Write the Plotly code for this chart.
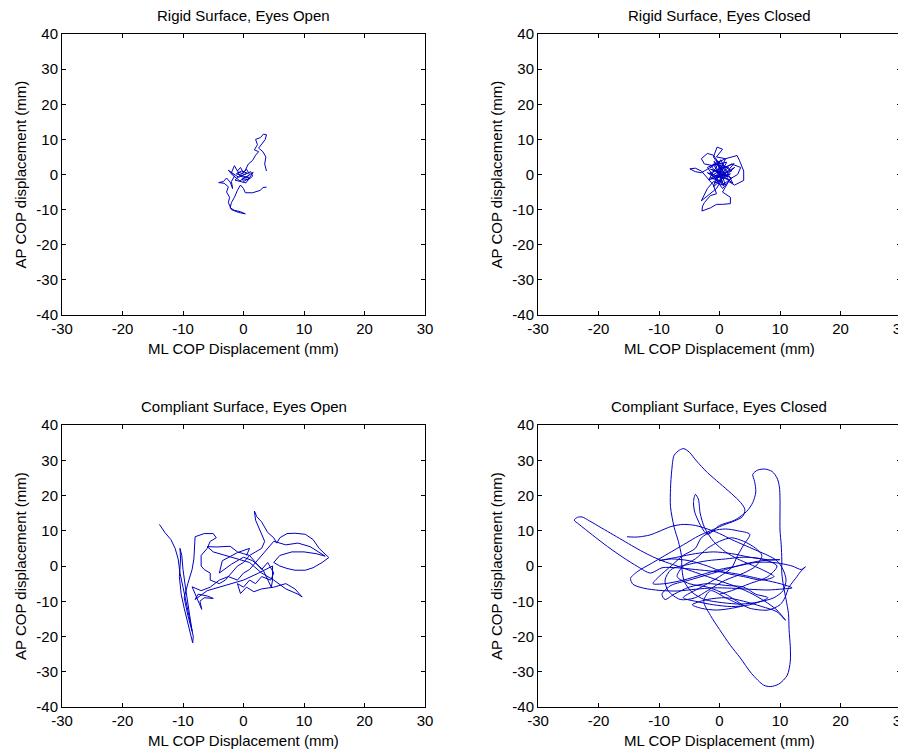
import plotly.graph_objects as go

# ---------------- data (mm) ----------------
titles = ["Rigid Surface, Eyes Open", "Rigid Surface, Eyes Closed",
          "Compliant Surface, Eyes Open", "Compliant Surface, Eyes Closed"]
x_ticks = [-30, -20, -10, 0, 10, 20, 30]
x_ticktext = ["-30", "-20", "-10", "0", "10", "20", "30"]
y_ticks = [-40, -30, -20, -10, 0, 10, 20, 30, 40]
y_ticktext = ["-40", "-30", "-20", "-10", "0", "10", "20", "30", "40"]

rseo = [(3.8,-3.6),(3.2,-3.7),(2.8,-4.5),(1.5,-5.2),(0.3,-5.2),(0.0,-4.0),(-0.5,-3.0),(-1.0,-4.5),
        (-1.5,-6.5),(-2.0,-8.0),(-2.2,-9.5),(-1.5,-10.2),(-0.5,-10.6),(0.3,-11.2),(-0.8,-10.8),(-2.0,-10.0),
        (-2.5,-8.0),(-2.3,-6.5),(-2.8,-5.0),(-2.5,-3.5),(-3.2,-2.5),(-4.1,-2.3),(-3.3,-2.0),(-2.8,-1.0),
        (-2.2,-2.2),(-1.8,-4.0),(-2.0,-2.0),(-1.5,-0.5),(-2.0,0.5),(-1.5,2.5),(-1.0,1.0),(-0.5,2.0),
        (0.0,0.5),(0.5,1.5),(1.0,0.0),(0.5,-1.0),(-0.5,-0.5),(-1.0,0.8),(0.2,0.0),(1.2,0.8),(1.5,-0.5),
        (0.8,-1.5),(-0.2,-1.2),(0.0,-2.0),(1.0,-1.0),(-1.2,0.2),(-0.3,1.0),(0.6,0.4),(-0.8,-0.8),
        (-2.5,1.2),(-1.8,-0.2),(-0.6,-1.8),(1.6,0.6),(0.4,-2.4),(-1.4,-1.6),
        (0.3,1.2),(0.8,3.0),(1.5,4.0),(2.0,5.5),(2.5,6.5),(1.8,7.0),(2.3,8.5),(2.0,10.0),(2.8,10.5),
        (3.3,11.5),(3.8,11.3),(3.6,10.0),(3.0,8.5),(2.5,7.5),(3.2,6.5),(3.7,5.0),(3.5,3.0),(3.8,1.0)]

rsec = [(0,0),(1.5,2),(-1,3),(0.5,-2),(-1.5,-1),(2,1),(-0.5,4),(1,-3),(-2,0.5),(1.5,-1.5),(0,2.5),
        (-1,-3.5),(2.5,2),(-0.5,-1),(1,4.5),(-2,2),(0.5,-4),(2,-1),(-1.5,1.5),(0.8,0.5),
        (-1,5),(-0.4,7.8),(0.5,7.2),(-0.5,5),(1,4.5),(2.9,5.4),(3.3,4),(4,1),(4,-1.7),(3,-2.5),
        (2.5,-3),(1.5,-2),(0.5,-5),(1.8,-6.5),(1.8,-8.3),(0.5,-8.5),(-0.5,-8.5),(-1.5,-9.5),
        (-2.9,-10.4),(-2.8,-9),(-2.5,-8),(-1.5,-6),(-0.5,-5.5),(-1,-3),(-2,-1),(-3,1),(-4,1.8),
        (-4.9,1.6),(-4,0.8),(-3,0.5),(-2,1.5),(-1,2.5),(-2.5,3),(-3,4.5),(-2,6),(-1,5.5),(0,3),
        (1,1),(0,-1),(-1,0),(0.5,1.5),(2,3),(3.5,2),(3,0),(2,-1),(0.5,-3),(-1,-2),(-2,-4),
        (-3,-7.5),(-2,-6),(-0.5,-4),(0.5,-1),(-1.5,2.5),(1.2,3.5),(-0.8,-2.5),(1.8,0.2),(-1.8,-1.5),
        (0.2,4.2),(2.2,-2.5),(-0.5,1),(1.3,-0.6),(-0.9,3.8),(0.7,-3.2),(-1.6,0.4),(2.4,3.1),(-0.2,-2)]

cseo = [(-13.9,11.8),(-13,9.5),(-12,7.5),(-11.3,5),(-10.8,2),(-10.5,-2),(-10,-6),(-9.5,-10),(-9,-14),
        (-8.5,-18),(-8.3,-20),(-8.4,-21.8),(-8.8,-19),(-9.3,-16),(-9.8,-12),(-10.3,-8),(-10.6,-3),
        (-10.4,2),(-10.5,5),(-10.2,3),(-10,-1),(-9.6,-6),(-9.2,-11),(-8.8,-15),(-8.5,-18.5),(-9.2,-14),
        (-9.8,-9),(-9.2,-5),(-8.5,-1),(-8.2,2),(-8,6),(-8,8.3),(-6.5,9.2),(-5,9.2),(-4.5,8),(-5.5,7),
        (-6,5),(-7,3),(-7,0),(-6.5,-1),(-5.5,-2),(-5.5,-4),(-4,-5),(-3,-4),(-2,-2),(-1,0),(0,1),(1,3),
        (2,1),(3,-1),(4,1),(5,-2),(4.5,-4),(3,-3),(2,-5),(1,-4),(0,-6),(-1,-5),(-0.5,-7.8),(0.5,-6),
        (1.7,-7.3),(3,-6.5),(5,-6),(7,-5),(8.5,-6.5),(9.7,-8.8),(9,-8),(7,-6.5),(5,-4),(3,-2),(1,1),
        (-1,2),(-3,3),(-5,4),(-6,5.5),(-4.4,5.4),(-2.2,5.6),(-1,4),(0,3.5),(1,3),(2,4),(3,5),(3.5,7),
        (3,9),(2.5,11),(2,13),(1.8,15.6),(2.2,14),(3,12.5),(3.5,11),(4,9.5),(5,8),(5.5,6.5),(6,8),
        (7.2,9.2),(8.5,9.3),(10.2,9),(11.5,7.5),(12.5,5),(14.1,2.4),(13,1),(11.5,-0.5),(10.2,-1.2),
        (8.5,-1.2),(7.2,-0.7),(6,0),(5,1),(6,3),(8,4),(10,4),(12,3.5),(13.5,2.8),(11,5.5),(9,6.5),
        (7,6),(5,7),(4,5),(3,3),(2,1),(1,-1),(0,-2),(-1,-4),(-2.5,-3),(-4,-4),(-5.5,-6),(-7,-7),
        (-8.5,-5.9),(-8,-8),(-7.5,-10),(-6.9,-12.3),(-7.2,-10),(-6.5,-9),(-5,-9.2),(-6,-8.5),(-7.5,-8),
        (-8,-9.5),(-6,-7),(-3,-5.5),(0,-4),(2.5,-2),(4.8,0),(4.8,-4),(4.6,-6),(3.2,-1),(1.5,1.5),
        (0,2.5),(-2,0.5),(-4,-2),(-3.5,1.5),(-1,3.8),(1,5),(0.5,3)]

csec = [(-15.3,8.3),(-14,8.2),(-13.1,8.3),(-11.5,8.8),(-10,9.8),(-8,11.2),(-6,11.8),(-4,11.5),(-2,10.5),
        (0,9.2),(2,7.5),(4,6),(6,4.5),(8,3),(9.5,1.5),(10.5,-1),(11,-4),(10.5,-7),(9,-9),(6.5,-10.2),
        (3.5,-10.8),(0.5,-10.4),(-2.5,-9.5),(-4.5,-7.5),(-5.8,-4.5),(-6.2,-1),(-6.3,3),(-6.8,7),(-7.5,11),
        (-8.1,16.8),(-8.1,22),(-7.9,27),(-7.5,31.4),(-6.6,32.9),(-5.9,33.3),(-5,32.3),(-3.8,29.8),(-2,26.5),
        (0,23.5),(2,20.5),(3.5,18),(4.2,16),(3.8,14),(2.5,12.8),(0.5,11.5),(-1.5,10),(-3.5,8.5),(-5.5,6.5),
        (-7.5,4.5),(-9.5,2.5),(-11.5,0.5),(-13.5,-1.5),(-14.7,-3.5),(-14.3,-5.2),(-12.5,-6.3),(-10,-6.9),
        (-7,-7.1),(-4,-6.6),(-1,-6.2),(2,-6.3),(5,-6.6),(8,-6.8),(10.5,-6.5),(12,-6.2),(10,-5),(7.5,-4),
        (5,-3),(2,-2),(-1,-1.5),(-4,-1),(-7,-0.5),(-9.5,-0.5),(-11.4,-2),(-13.5,-0.2),(-16,2.5),(-18.5,5.5),
        (-21,8.8),(-23.2,11.8),(-24,13),(-23.5,13.8),(-22.7,13.9),(-21.5,12.8),(-19.5,10.8),(-17.5,8.8),
        (-15.5,6.8),(-13.5,4.8),(-11.5,3),(-9.5,1.5),(-7,0),(-4.5,-1.5),(-2,-3),(0.5,-4.5),(3,-6),
        (5.5,-8),(7.5,-10),(9.5,-12.5),(10.9,-15.4),(9.5,-13),(7,-11.5),(4,-10),(1,-9),(-2,-9.5),
        (-4.5,-11),(-3,-12),(-0.5,-12.5),(2,-12),(4,-11.2),(3.5,-11),(1,-9),(-1.5,-7),(-2.6,-10),
        (-1.5,-14),(0,-18),(1.8,-22.5),(3.4,-26),(5.3,-30.5),(7.3,-33.8),(8.4,-34.2),(9.8,-33.5),
        (11.2,-31),(11.7,-27),(11.7,-22.9),(11.5,-18),(11.4,-13.5),(11,-9.5),(10.6,-5.9),(10.3,-2),
        (10.3,1.7),(10.2,6),(10,10.2),(10,15),(10,19),(9.9,22.5),(9.5,25),(8.7,26.8),(7.5,27.5),
        (6.3,27.2),(5.5,26),(5.8,24),(6,21),(5.5,18),(4.5,15.5),(2.5,13),(0,11.5),(-2,9),(-4,14.8),
        (-4.3,18),(-4,20.3),(-3.5,19),(-3.2,15),(-2.5,11),(-1,7),(1,4),(3,2),(5,0.5),(7,-1),(9,-3),
        (7,-4),(4,-3),(1,-2),(-2,0),(-5,1.5),(-8,2),(-10,1.5),(-7,2.5),(-4,3.5),(-1,4),(2,3.5),(5,2.5),
        (8,1.8),(10,1.8),(7,1.5),(4,0.5),(1,-1),(-2,-2.5),(-5,-4),(-8,-5.5),(-9.5,-8),(-9,-9.5),
        (-7.5,-8),(-5,-6),(-2,-5),(1,-5.5),(4,-6),(6,-8),(8,-9),(5,-11),(2,-11.5),(-1,-11),(-4,-10),
        (-6,-9),(-3,-6),(0,-3),(2,-0.5),(3,3),(4,6),(5,9),(3,10),(1,10.5),(-1,10),(-3,8),(-4,5),(-6,3),
        (-8,0),(-10,-3),(-11,-5),(-9,-5),(-6,-4),(-3,-2.5),(0,-1),(3,0),(6,1),(9,1),(12,0),(13.5,-1),
        (14.2,-0.2),(13.3,-1.8),(12.8,-3),(11.5,-6),(10.8,-9),(10,-11),(8,-12.5),(5,-12),(3.8,-11),
        (1,-8),(-2,-6),(-5,-5),(-7,-3),(-6,0),(-4,2),(-2,5),(0,7),(2,8),(4,7),(6,5),(7,3),(6,0),
        (4,-2),(1,-4),(-2,-7),(-4,-9),(-6.5,-9.5),(-8.5,-7),(-9,-4),(-8,-1),(-5,0.5),(-2,1.5),(1,2),
        (4,2.5),(7,2),(9.5,0),(8,-3),(5,-5),(2,-7),(0,-8)]

series = [rseo, rsec, cseo, csec]
smooth = [False, False, False, True]

# ---------------- layout geometry ----------------
# The page body has an 8px default margin, so the figure is sized/offset to
# place the axes at the same page pixels as the reference.
OFF = 8
W, H = 906 - OFF, 752 - OFF
def px_x(p):
    return (p - OFF) / W
def px_y(p):
    return 1 - (p - OFF) / H
xdom = [[px_x(62), px_x(425)], [px_x(538), px_x(901)]]
ydom = [[px_y(315), px_y(34)], [px_y(707), px_y(425)]]

fig = go.Figure()
font = dict(family="Liberation Sans, Arial, sans-serif", size=15, color="black")
annotations = []

for i, (pts, title) in enumerate(zip(series, titles)):
    r, c = divmod(i, 2)
    xa = "x" if i == 0 else f"x{i+1}"
    ya = "y" if i == 0 else f"y{i+1}"
    xs = [p[0] for p in pts]
    ys = [p[1] for p in pts]
    fig.add_trace(go.Scatter(
        x=xs, y=ys, mode="lines", xaxis=xa, yaxis=ya, showlegend=False,
        line=dict(color="rgb(0,0,195)", width=1,
                  shape="spline" if smooth[i] else "linear", smoothing=0.8),
        hoverinfo="skip"))
    axcommon = dict(showline=True, linecolor="black", linewidth=1, mirror="ticks",
                    ticks="inside", ticklen=4, tickcolor="black", showgrid=False,
                    zeroline=False, tickfont=font, fixedrange=True, automargin=False,
                    ticklabeloverflow="allow")
    fig.layout[f"xaxis{'' if i == 0 else i+1}"] = dict(
        domain=xdom[c], range=[-30, 30], tickvals=x_ticks, ticktext=x_ticktext,
        anchor=ya, **axcommon)
    fig.layout[f"yaxis{'' if i == 0 else i+1}"] = dict(
        domain=ydom[r], range=[-40, 40], tickvals=y_ticks, ticktext=y_ticktext,
        anchor=xa, **axcommon)

    xc = (xdom[c][0] + xdom[c][1]) / 2
    top = ydom[r][1]
    bot = ydom[r][0]
    annotations.append(dict(text=title, x=xc, y=top, xref="paper", yref="paper",
                            xanchor="center", yanchor="bottom", yshift=8,
                            showarrow=False, font=font))
    annotations.append(dict(text="ML COP Displacement (mm)", x=xc, y=bot, xref="paper",
                            yref="paper", xanchor="center", yanchor="top", yshift=-23,
                            showarrow=False, font=font))
    annotations.append(dict(text="AP COP displacement (mm)", x=xdom[c][0],
                            y=(ydom[r][0] + ydom[r][1]) / 2, xref="paper", yref="paper",
                            xanchor="center", yanchor="middle", xshift=-42, textangle=-90,
                            showarrow=False, font=font))

fig.update_layout(width=W, height=H, margin=dict(l=0, r=0, t=0, b=0, autoexpand=False),
                  paper_bgcolor="white", plot_bgcolor="white",
                  annotations=annotations, font=font)

fig.write_html("out.html")
